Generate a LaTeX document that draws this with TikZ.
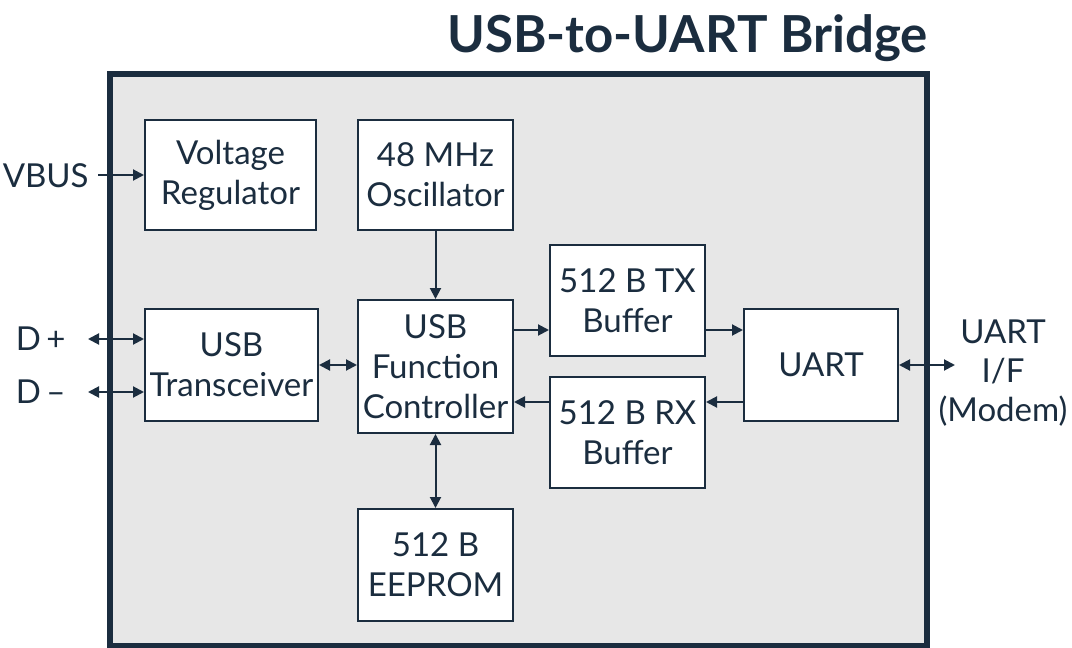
\documentclass[tikz,border=0pt]{standalone}
\usepackage{fontspec}
\setmainfont{Lato}
\usetikzlibrary{arrows.meta}
\definecolor{ink}{RGB}{27,45,63}
\definecolor{chipgray}{RGB}{231,231,231}
\begin{document}
\begin{tikzpicture}[x=0.5pt,y=-0.5pt,
  box/.style={draw=ink, line width=1pt, fill=white, inner sep=0pt, align=center,
    text=ink, font=\fontsize{16.5}{20}\selectfont},
  lbl/.style={text=ink, inner sep=0pt, align=center, font=\fontsize{16.5}{19.5}\selectfont},
  tip/.style={Triangle[length=5.5pt,width=5.5pt]},
  arr/.style={draw=ink, line width=1pt, -{Triangle[length=5.5pt,width=5.5pt]}},
  dbl/.style={draw=ink, line width=1pt, {Triangle[length=5.5pt,width=5.5pt]}-{Triangle[length=5.5pt,width=5.5pt]}}]
\useasboundingbox (0,0) rectangle (1072,648);

% title and chip outline
\node[text=ink, inner sep=0pt, anchor=base east, font=\fontsize{25.5}{28}\selectfont\bfseries] (title) at (928,52) {USB-to-UART Bridge};
\draw[draw=ink, line width=3pt, fill=chipgray] (110,74) rectangle (927,646);

% functional blocks
\node[box, minimum width=85.5pt, minimum height=55pt] (vreg) at (230.5,175) {Voltage\\Regulator};
\node[box, minimum width=77.5pt, minimum height=55pt] (osc) at (435.5,175) {48 MHz\\Oscillator};
\node[box, minimum width=86.5pt, minimum height=56pt] (xcvr) at (231.5,365) {USB\\Transceiver};
\node[box, minimum width=77.5pt, minimum height=66.5pt] (fc) at (435.5,366.5) {USB\\Function\\Controller};
\node[box, minimum width=77.5pt, minimum height=55.5pt] (tx) at (627.5,300.5) {512 B TX\\Buffer};
\node[box, minimum width=77.5pt, minimum height=55.5pt] (rx) at (627.5,432.5) {512 B RX\\Buffer};
\node[box, minimum width=77pt, minimum height=56pt] (uart) at (821,365) {UART};
\node[box, minimum width=77.5pt, minimum height=56pt] (eep) at (435.5,565) {512 B\\EEPROM};

% external pins
\node[lbl, anchor=east] (vbus) at (89,176) {VBUS};
\node[lbl, anchor=east] (dp) at (66,339) {D\,+};
\node[lbl, anchor=east] (dm) at (66,392) {D\,–};
\node[lbl] (uif) at (1003,373) {UART\\I/F\\(Modem)};
\coordinate (vbusend) at (98,175);
\coordinate (dpend) at (88,339);
\coordinate (dmend) at (88,392);
\coordinate (uifend) at (955,365);

% connections
\draw[arr] (vbusend) -- (vreg.west |- vbusend);
\draw[dbl] (dpend) -- (xcvr.west |- dpend);
\draw[dbl] (dmend) -- (xcvr.west |- dmend);
\draw[dbl] (xcvr.east) -- (fc.west |- xcvr.east);
\draw[arr] (osc.south) -- (fc.north);
\draw[dbl] (fc.south) -- (eep.north);
\coordinate (txin) at ([yshift=-14.75pt]tx.west);
\coordinate (txout) at ([yshift=-14.75pt]tx.east);
\coordinate (rxout) at ([yshift=15.25pt]rx.west);
\coordinate (rxin) at ([yshift=15.25pt]rx.east);
\draw[arr] (fc.east |- txin) -- (txin);
\draw[arr] (txout) -- (uart.west |- txout);
\draw[arr] (uart.west |- rxin) -- (rxin);
\draw[arr] (rxout) -- (fc.east |- rxout);
\draw[dbl] (uart.east) -- (uifend);
\end{tikzpicture}
\end{document}
